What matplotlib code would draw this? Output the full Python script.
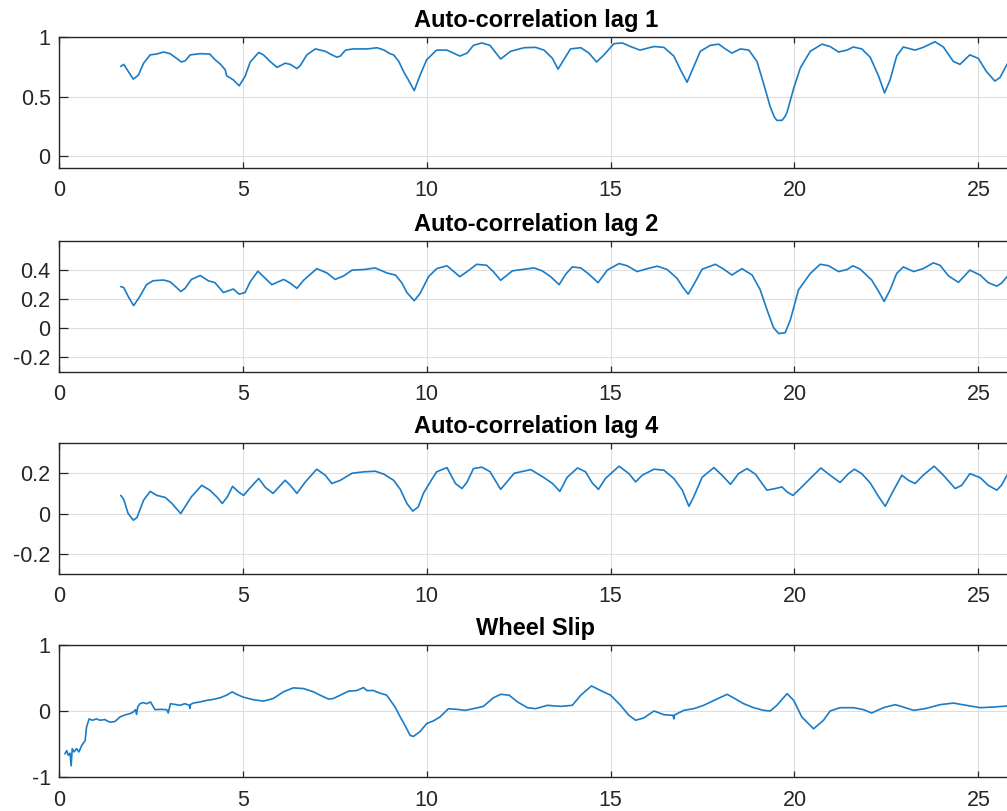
import matplotlib
matplotlib.use("Agg")
import matplotlib.pyplot as plt
import numpy as np

# ---------------- data ----------------
titles = ["Auto-correlation lag 1", "Auto-correlation lag 2",
          "Auto-correlation lag 4", "Wheel Slip"]

lag1_t = [1.68, 1.76, 2.02, 2.16, 2.30, 2.48, 2.66, 2.84, 3.02, 3.20, 3.33, 3.43, 3.57, 3.84,
          4.10, 4.24, 4.38, 4.52, 4.56, 4.74, 4.90, 5.06, 5.20, 5.43, 5.56, 5.74, 5.93, 6.15,
          6.29, 6.47, 6.56, 6.74, 6.97, 7.24, 7.42, 7.56, 7.65, 7.79, 8.00, 8.39, 8.65, 8.84,
          9.00, 9.10, 9.24, 9.37, 9.50, 9.66, 9.82, 10.00, 10.27, 10.55, 10.90, 11.10, 11.27,
          11.50, 11.72, 12.01, 12.28, 12.65, 12.96, 13.19, 13.42, 13.57, 13.73, 13.91, 14.19,
          14.41, 14.62, 14.82, 15.09, 15.32, 15.54, 15.80, 16.18, 16.45, 16.72, 16.90, 17.08,
          17.26, 17.44, 17.71, 17.94, 18.12, 18.30, 18.53, 18.76, 18.98, 19.16, 19.34, 19.45, 19.52,
          19.66, 19.74, 19.80, 19.98, 20.16, 20.43, 20.75, 20.97, 21.20, 21.43, 21.60, 21.83, 22.06,
          22.29, 22.45, 22.60, 22.78, 22.96, 23.28, 23.50, 23.82, 24.05, 24.32, 24.50, 24.77,
          25.00, 25.22, 25.45, 25.59, 25.78, 25.95]
lag1_v = [0.753, 0.77, 0.646, 0.68, 0.78, 0.85, 0.857, 0.874, 0.86, 0.82, 0.79, 0.80, 0.85, 0.86,
          0.857, 0.81, 0.775, 0.725, 0.674, 0.64, 0.59, 0.67, 0.79, 0.87, 0.85, 0.795, 0.745, 0.78,
          0.77, 0.735, 0.76, 0.85, 0.90, 0.88, 0.85, 0.83, 0.84, 0.89, 0.90, 0.90, 0.91, 0.89,
          0.86, 0.85, 0.795, 0.71, 0.64, 0.55, 0.68, 0.81, 0.89, 0.89, 0.84, 0.865, 0.93,
          0.95, 0.93, 0.815, 0.88, 0.91, 0.913, 0.89, 0.82, 0.73, 0.81, 0.90, 0.91,
          0.865, 0.79, 0.85, 0.944, 0.95, 0.92, 0.89, 0.92, 0.913, 0.84, 0.725, 0.62,
          0.75, 0.88, 0.93, 0.94, 0.90, 0.865, 0.90, 0.89, 0.795, 0.61, 0.415, 0.33, 0.30,
          0.30, 0.33, 0.37, 0.57, 0.74, 0.88, 0.94, 0.92, 0.874, 0.89, 0.916, 0.90, 0.83,
          0.67, 0.53, 0.64, 0.84, 0.916, 0.89, 0.913, 0.96, 0.916, 0.795, 0.77, 0.85,
          0.82, 0.71, 0.63, 0.66, 0.77, 0.83]

lag2_t = [1.68, 1.76, 1.88, 2.03, 2.20, 2.38, 2.56, 2.84, 3.02, 3.20, 3.31, 3.43, 3.60, 3.84,
          4.06, 4.24, 4.47, 4.74, 4.90, 5.06, 5.20, 5.41, 5.61, 5.79, 6.11, 6.29, 6.47, 6.65,
          7.01, 7.29, 7.51, 7.74, 7.97, 8.29, 8.60, 8.92, 9.15, 9.33, 9.46, 9.66, 9.82, 10.05,
          10.27, 10.55, 10.90, 11.10, 11.36, 11.63, 11.81, 12.01, 12.33, 12.65, 12.92, 13.14,
          13.37, 13.60, 13.78, 13.96, 14.19, 14.41, 14.66, 14.91, 15.23, 15.45, 15.72, 16.00,
          16.27, 16.54, 16.81, 16.97, 17.11, 17.26, 17.49, 17.85, 18.08, 18.30, 18.57, 18.85,
          19.07, 19.25, 19.43, 19.57, 19.75, 19.89, 20.11, 20.43, 20.70, 20.93, 21.20, 21.43,
          21.59, 21.79, 22.10, 22.29, 22.44, 22.60, 22.78, 22.96, 23.24, 23.50, 23.78, 23.96,
          24.19, 24.46, 24.77, 25.05, 25.27, 25.50, 25.63, 25.78, 25.95]
lag2_v = [0.287, 0.28, 0.22, 0.156, 0.22, 0.30, 0.327, 0.332, 0.32, 0.28, 0.253, 0.275, 0.336, 0.363,
          0.327, 0.314, 0.246, 0.27, 0.235, 0.246, 0.32, 0.393, 0.343, 0.30, 0.336, 0.31, 0.275, 0.33,
          0.41, 0.38, 0.336, 0.36, 0.40, 0.404, 0.415, 0.38, 0.366, 0.31, 0.246, 0.19, 0.24, 0.355,
          0.41, 0.43, 0.355, 0.39, 0.44, 0.433, 0.39, 0.33, 0.395, 0.406, 0.415, 0.395,
          0.355, 0.30, 0.372, 0.422, 0.415, 0.372, 0.314, 0.40, 0.445, 0.43, 0.39, 0.41,
          0.427, 0.404, 0.343, 0.28, 0.235, 0.30, 0.406, 0.44, 0.406, 0.366, 0.41, 0.366,
          0.264, 0.13, 0.005, -0.036, -0.03, 0.06, 0.264, 0.377, 0.44, 0.43, 0.39, 0.404,
          0.43, 0.406, 0.332, 0.253, 0.185, 0.264, 0.377, 0.422, 0.39, 0.41, 0.45, 0.433,
          0.36, 0.316, 0.40, 0.366, 0.314, 0.29, 0.31, 0.355, 0.39]

lag4_t = [1.68, 1.76, 1.88, 2.02, 2.12, 2.30, 2.48, 2.66, 2.89, 3.07, 3.31, 3.60, 3.88, 4.10,
          4.29, 4.44, 4.58, 4.72, 4.88, 5.02, 5.16, 5.43, 5.61, 5.82, 6.15, 6.29, 6.47, 6.70,
          7.01, 7.24, 7.42, 7.65, 7.97, 8.29, 8.60, 8.84, 9.10, 9.28, 9.46, 9.62, 9.77, 9.91,
          10.14, 10.27, 10.55, 10.78, 10.96, 11.10, 11.27, 11.50, 11.72, 12.01, 12.38, 12.83,
          13.19, 13.42, 13.62, 13.82, 14.10, 14.32, 14.50, 14.67, 14.86, 15.23, 15.50, 15.68,
          15.86, 16.18, 16.45, 16.72, 16.95, 17.13, 17.26, 17.49, 17.81, 18.03, 18.26, 18.48,
          18.71, 18.94, 19.25, 19.48, 19.66, 19.80, 19.96, 20.20, 20.43, 20.72, 20.97, 21.24,
          21.47, 21.63, 21.83, 22.06, 22.29, 22.47, 22.65, 22.92, 23.10, 23.28, 23.50, 23.80,
          24.05, 24.37, 24.55, 24.77, 25.05, 25.27, 25.50, 25.63, 25.78, 25.95]
lag4_v = [0.09, 0.07, 0.0, -0.033, -0.02, 0.066, 0.11, 0.09, 0.08, 0.05, 0.0, 0.083, 0.14, 0.116,
          0.083, 0.05, 0.083, 0.135, 0.107, 0.09, 0.12, 0.174, 0.13, 0.10, 0.165, 0.14, 0.10, 0.157,
          0.22, 0.19, 0.149, 0.165, 0.20, 0.207, 0.21, 0.195, 0.165, 0.12, 0.05, 0.012, 0.033, 0.10,
          0.17, 0.207, 0.228, 0.149, 0.124, 0.157, 0.223, 0.23, 0.208, 0.12, 0.20, 0.218,
          0.178, 0.149, 0.11, 0.18, 0.226, 0.207, 0.152, 0.12, 0.174, 0.235, 0.198, 0.157,
          0.19, 0.22, 0.215, 0.174, 0.116, 0.036, 0.083, 0.18, 0.228, 0.19, 0.145, 0.198,
          0.223, 0.195, 0.116, 0.124, 0.132, 0.107, 0.09, 0.132, 0.174, 0.226, 0.19, 0.154,
          0.198, 0.22, 0.198, 0.152, 0.083, 0.036, 0.10, 0.19, 0.165, 0.149, 0.19, 0.235,
          0.19, 0.124, 0.14, 0.198, 0.178, 0.14, 0.116, 0.14, 0.19, 0.21]

slip_t = [0.16, 0.21, 0.25, 0.30, 0.33, 0.36, 0.41, 0.48, 0.54, 0.62, 0.71, 0.75, 0.82, 0.91,
          1.02, 1.11, 1.25, 1.38, 1.52, 1.66, 1.79, 1.93, 2.02, 2.08, 2.11, 2.14, 2.20, 2.29,
          2.38, 2.49, 2.56, 2.61, 2.75, 2.93, 2.97, 3.03, 3.15, 3.29, 3.42, 3.54, 3.56, 3.58,
          3.65, 3.83, 4.01, 4.20, 4.38, 4.56, 4.71, 4.83, 5.01, 5.29, 5.56, 5.83, 6.10, 6.37,
          6.65, 6.92, 7.10, 7.33, 7.46, 7.65, 7.87, 8.10, 8.28, 8.37, 8.55, 8.73, 8.91, 9.14,
          9.28, 9.41, 9.55, 9.64, 9.82, 10.00, 10.18, 10.36, 10.59, 10.82, 11.04, 11.27, 11.54,
          11.81, 12.01, 12.24, 12.47, 12.74, 12.96, 13.28, 13.64, 13.96, 14.19, 14.48, 14.73,
          15.00, 15.27, 15.50, 15.68, 15.90, 16.18, 16.45, 16.70, 16.72, 16.74, 16.99, 17.26,
          17.53, 17.81, 18.17, 18.35, 18.62, 18.89, 19.16, 19.34, 19.52, 19.80, 19.98, 20.20,
          20.52, 20.79, 20.97, 21.24, 21.61, 21.88, 22.10, 22.42, 22.74, 22.96, 23.24, 23.55,
          23.96, 24.32, 24.68, 25.05, 25.41, 25.78, 25.95]
slip_v = [-0.65, -0.60, -0.67, -0.64, -0.83, -0.57, -0.62, -0.57, -0.62, -0.52, -0.45, -0.24, -0.12, -0.14,
          -0.12, -0.14, -0.13, -0.17, -0.16, -0.09, -0.06, -0.04, -0.015, 0.02, -0.05, 0.06, 0.11, 0.127,
          0.11, 0.137, 0.07, 0.02, 0.025, 0.02, -0.03, 0.11, 0.10, 0.086, 0.11, 0.09, 0.04, 0.10,
          0.12, 0.137, 0.16, 0.177, 0.20, 0.24, 0.29, 0.253, 0.21, 0.17, 0.15, 0.19, 0.29, 0.35,
          0.34, 0.29, 0.24, 0.18, 0.19, 0.24, 0.30, 0.31, 0.355, 0.31, 0.31, 0.27, 0.24, 0.06,
          -0.09, -0.22, -0.37, -0.385, -0.31, -0.19, -0.15, -0.09, 0.035, 0.025, 0.01, 0.035, 0.07,
          0.20, 0.253, 0.24, 0.137, 0.05, 0.035, 0.086, 0.07, 0.086, 0.24, 0.38, 0.31,
          0.24, 0.086, -0.066, -0.14, -0.106, 0.0, -0.056, -0.066, -0.12, -0.06, 0.01, 0.035,
          0.086, 0.16, 0.253, 0.197, 0.11, 0.05, 0.01, 0.0, 0.086, 0.263, 0.16, -0.09,
          -0.27, -0.14, 0.0, 0.05, 0.05, 0.02, -0.03, 0.05, 0.096, 0.06, 0.01, 0.035,
          0.096, 0.12, 0.086, 0.05, 0.06, 0.076, 0.08]

series_t = [lag1_t, lag2_t, lag4_t, slip_t]
series_v = [lag1_v, lag2_v, lag4_v, slip_v]

ylims = [(-0.1, 1.0), (-0.3, 0.6), (-0.3, 0.35), (-1.0, 1.0)]
yticks = [[0, 0.5, 1], [-0.2, 0, 0.2, 0.4], [-0.2, 0, 0.2], [-1, 0, 1]]
ytick_labels = [["0", "0.5", "1"], ["-0.2", "0", "0.2", "0.4"], ["-0.2", "0", "0.2"], ["-1", "0", "1"]]
xticks = [0, 5, 10, 15, 20, 25]

# ---------------- style ----------------
plt.rcParams['font.family'] = ['Liberation Sans', 'DejaVu Sans']
W, H = 1007, 811
fig = plt.figure(figsize=(W / 100, H / 100), dpi=100)

axes_px = [(37, 168), (241, 372), (443, 574), (645, 777)]  # top, bottom pixel rows
left_px = 59
line_color = "#1a7cc6"
axis_color = "#262626"

for i in range(4):
    top, bot = axes_px[i]
    ax = fig.add_axes([left_px / W, (H - bot) / H, (W - left_px) / W, (bot - top) / H])
    ax.plot(series_t[i], series_v[i], color=line_color, lw=1.2,
            solid_joinstyle="round", solid_capstyle="round")
    ax.set_xlim(0, 25.78)
    ax.set_ylim(*ylims[i])
    ax.set_xticks(xticks)
    ax.set_xticklabels([str(x) for x in xticks])
    ax.set_yticks(yticks[i])
    ax.set_yticklabels(ytick_labels[i])
    ax.grid(True, color="#dedede", lw=0.8)
    ax.set_axisbelow(True)
    for s in ["top", "bottom", "left"]:
        ax.spines[s].set_color(axis_color)
        ax.spines[s].set_linewidth(1.0)
    ax.spines["right"].set_visible(False)
    ax.tick_params(axis="x", direction="in", length=4, width=0.9, colors=axis_color,
                   labelsize=15.5, pad=9, top=True)
    ax.tick_params(axis="y", direction="in", length=6.5, width=0.9, colors=axis_color,
                   labelsize=15.5, pad=6)
    ax.set_title(titles[i], fontsize=17, fontweight="bold", x=0.503, pad=7, color="black")

fig.savefig("out.png", dpi=100)
